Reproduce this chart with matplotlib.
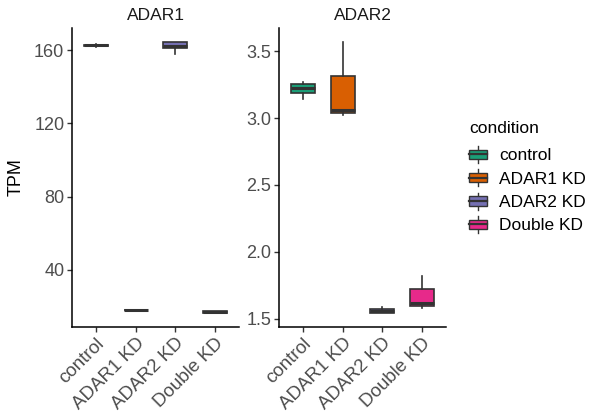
import matplotlib.pyplot as plt
from matplotlib.patches import Rectangle
from matplotlib.lines import Line2D
from matplotlib.legend_handler import HandlerBase

plt.rcParams['font.family'] = ['Liberation Sans', 'DejaVu Sans']

conditions = ['control', 'ADAR1 KD', 'ADAR2 KD', 'Double KD']
colors = ['#1B9E77', '#D95F02', '#7570B3', '#E7298A']
genes = ['ADAR1', 'ADAR2']

# box statistics per gene: whisker low, q1, median, q3, whisker high
adar1_whislo = [161.8, 17.6, 157.8, 16.2]
adar1_q1 = [162.2, 17.8, 161.0, 16.6]
adar1_med = [162.6, 17.9, 162.3, 17.0]
adar1_q3 = [163.0, 18.0, 164.4, 17.3]
adar1_whishi = [163.4, 18.1, 164.6, 17.6]

adar2_whislo = [3.144, 3.025, 1.540, 1.582]
adar2_q1 = [3.187, 3.037, 1.545, 1.594]
adar2_med = [3.228, 3.060, 1.557, 1.619]
adar2_q3 = [3.254, 3.318, 1.575, 1.719]
adar2_whishi = [3.273, 3.572, 1.587, 1.818]

adar1_ticks = [40, 80, 120, 160]
adar2_ticks = [1.5, 2.0, 2.5, 3.0, 3.5]
adar2_ticklabels = ['1.5', '2.0', '2.5', '3.0', '3.5']

EDGE = '#333333'
TICKCOL = '#4D4D4D'


def stats_list(lo, q1, med, q3, hi):
    return [dict(whislo=a, q1=b, med=c, q3=d, whishi=e, fliers=[])
            for a, b, c, d, e in zip(lo, q1, med, q3, hi)]


def draw_panel(ax, stats, ticks, ticklabels, title):
    bp = ax.bxp(stats, positions=range(1, len(stats) + 1), widths=0.6,
                patch_artist=True, showcaps=False,
                boxprops=dict(edgecolor=EDGE, linewidth=1.2),
                whiskerprops=dict(color=EDGE, linewidth=1.2),
                medianprops=dict(color=EDGE, linewidth=2.2, solid_capstyle='butt'))
    for patch, c in zip(bp['boxes'], colors):
        patch.set_facecolor(c)
    vmin = min(s['whislo'] for s in stats)
    vmax = max(s['whishi'] for s in stats)
    pad = (vmax - vmin) * 0.05
    ax.set_ylim(vmin - pad, vmax + pad)
    ax.set_xlim(0.4, len(stats) + 0.6)
    ax.set_yticks(ticks)
    ax.set_yticklabels(ticklabels, fontsize=13)
    ax.set_xticks(range(1, len(stats) + 1))
    ax.set_xticklabels(conditions, rotation=45, ha='right', rotation_mode='anchor',
                       fontsize=13.5)
    for s in ['top', 'right']:
        ax.spines[s].set_visible(False)
    for s in ['left', 'bottom']:
        ax.spines[s].set_linewidth(1.1)
        ax.spines[s].set_color('black')
    ax.tick_params(axis='both', length=3.5, width=1.0, color=EDGE,
                   labelcolor=TICKCOL, pad=2)
    ax.set_title(title, fontsize=12.5, color='#1A1A1A', pad=6)


class BoxHandler(HandlerBase):
    def create_artists(self, legend, orig_handle, xdescent, ydescent,
                       width, height, fontsize, trans):
        c = orig_handle.get_facecolor()
        x0 = -xdescent
        y0 = -ydescent
        rect = Rectangle((x0, y0 + height * 0.2), width, height * 0.6,
                         facecolor=c, edgecolor=EDGE, linewidth=1.0, transform=trans)
        med = Line2D([x0, x0 + width], [y0 + height * 0.5] * 2,
                     color=EDGE, linewidth=1.6, transform=trans)
        w1 = Line2D([x0 + width / 2] * 2, [y0 - height * 0.05, y0 + height * 0.2],
                    color=EDGE, linewidth=1.0, transform=trans)
        w2 = Line2D([x0 + width / 2] * 2, [y0 + height * 0.8, y0 + height * 1.05],
                    color=EDGE, linewidth=1.0, transform=trans)
        return [w1, w2, rect, med]


fig = plt.figure(figsize=(5.93, 4.17), dpi=100)
ax1 = fig.add_axes([72 / 593, 1 - 327 / 417, 167 / 593, 299 / 417])
ax2 = fig.add_axes([279 / 593, 1 - 327 / 417, 167 / 593, 299 / 417])

draw_panel(ax1, stats_list(adar1_whislo, adar1_q1, adar1_med, adar1_q3, adar1_whishi),
           adar1_ticks, [str(t) for t in adar1_ticks], genes[0])
draw_panel(ax2, stats_list(adar2_whislo, adar2_q1, adar2_med, adar2_q3, adar2_whishi),
           adar2_ticks, adar2_ticklabels, genes[1])
ax1.set_ylabel('TPM', fontsize=13, labelpad=7)

handles = [Rectangle((0, 0), 1, 1, facecolor=c) for c in colors]
leg = fig.legend(handles, conditions, title='condition', loc='center left',
                 bbox_to_anchor=(469 / 593, 1 - 177 / 417), frameon=False,
                 handler_map={Rectangle: BoxHandler()}, fontsize=12.5,
                 title_fontsize=12.5, handlelength=1.05, handleheight=1.0,
                 handletextpad=0.7, labelspacing=0.38, borderpad=0,
                 borderaxespad=0)
leg._legend_box.align = 'left'
leg._legend_box.sep = 8

fig.savefig('out.png', dpi=100)
